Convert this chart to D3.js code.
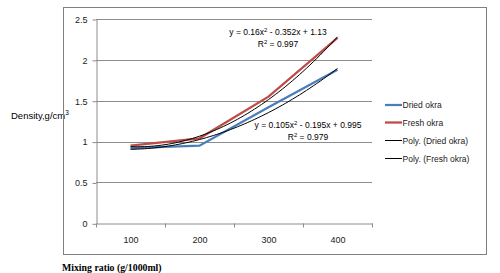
<!DOCTYPE html>
<html><head><meta charset="utf-8">
<script src="https://cdn.jsdelivr.net/npm/d3@7"></script>
<style>body{margin:0;background:#fff;position:relative}svg{display:block}
#frame{position:absolute;left:63px;top:7px;width:422px;height:246px;border:1px solid #808080;pointer-events:none}</style>
</head><body>
<div id="frame"></div>
<script>
const categories = ["100","200","300","400"];
const driedOkra = [0.92, 0.95, 1.42, 1.88];
const freshOkra = [0.95, 1.04, 1.55, 2.27];
const driedPoly = [0.105, -0.195, 0.995];
const freshPoly = [0.16, -0.352, 1.13];
const yTicks = [0, 0.5, 1, 1.5, 2, 2.5];
const seriesNames = ["Dried okra","Fresh okra","Poly. (Dried okra)","Poly. (Fresh okra)"];

const W=500,H=273;
const svg=d3.select("body").append("svg").attr("width",W).attr("height",H);
const font="'Liberation Sans', Arial, sans-serif";

const x=d3.scaleBand().domain(categories).range([96,372]);
const y=d3.scaleLinear().domain([0,2.5]).range([223.3,19]);

svg.append("path").attr("d","M63.5,7.5H486.5V254.5H63.5Z").attr("fill","none")
  .attr("stroke","#7f7f7f").attr("stroke-width",1);

const g=svg.append("g");
g.selectAll(".grid").data(yTicks.filter(d=>d>0)).join("line")
  .attr("x1",96).attr("x2",372).attr("y1",d=>Math.round(y(d))+0.5).attr("y2",d=>Math.round(y(d))+0.5)
  .attr("stroke","#8c8c8c").attr("stroke-width",1);

const yAxis=g.append("g").attr("transform","translate(96.5,0.5)")
  .call(d3.axisLeft(y).tickValues(yTicks).tickSize(4).tickSizeOuter(0).tickPadding(5).tickFormat(d3.format("")));
const xAxis=g.append("g").attr("transform",`translate(0.5,${Math.round(y(0))+0.5})`)
  .call(d3.axisBottom(x).tickSize(0).tickPadding(13));
const bounds=categories.map(c=>x(c)).concat([x.range()[1]]);
g.selectAll(".xt").data(bounds).join("line")
  .attr("x1",d=>Math.round(d)+0.5).attr("x2",d=>Math.round(d)+0.5)
  .attr("y1",Math.round(y(0))+0.5).attr("y2",Math.round(y(0))+4.5).attr("stroke","#8c8c8c");
[yAxis,xAxis].forEach(a=>{
  a.selectAll("path,line").attr("stroke","#8c8c8c");
  a.selectAll("text").attr("font-family",font).attr("font-size",9).attr("fill","#222");
});

const cx=i=>x(categories[i])+x.bandwidth()/2;
const line=d3.line().x((d,i)=>cx(i)).y(d=>y(d));
const polyLine=coef=>{
  const pts=d3.range(1,4.001,0.05).map(t=>[cx(0)+(t-1)*x.step(), coef[0]*t*t+coef[1]*t+coef[2]]);
  return d3.line().x(d=>d[0]).y(d=>y(d[1])).curve(d3.curveMonotoneX)(pts);
};
g.append("path").attr("d",line(driedOkra)).attr("fill","none").attr("stroke","#4a7ebb").attr("stroke-width",2.25);
g.append("path").attr("d",line(freshOkra)).attr("fill","none").attr("stroke","#be4b48").attr("stroke-width",2.25);
g.append("path").attr("d",polyLine(driedPoly)).attr("fill","none").attr("stroke","#000").attr("stroke-width",1);
g.append("path").attr("d",polyLine(freshPoly)).attr("fill","none").attr("stroke","#000").attr("stroke-width",1);

function eq(xc,yb,parts){
  const t=svg.append("text").attr("x",xc).attr("y",yb).attr("text-anchor","middle")
    .attr("font-family",font).attr("font-size",8.5).attr("fill","#000");
  parts.forEach(p=>{
    const s=t.append("tspan").text(p[0]);
    if(p[1]) s.attr("font-size",6).attr("dy",-3); else if(p[2]) s.attr("dy",3);
  });
}
eq(278,35,[["y = 0.16x"],["2",1],[" - 0.352x + 1.13",0,1]]);
eq(278,47,[["R"],["2",1],[" = 0.997",0,1]]);
eq(308,128,[["y = 0.105x"],["2",1],[" - 0.195x + 0.995",0,1]]);
eq(308,140,[["R"],["2",1],[" = 0.979",0,1]]);

const leg=[{c:"#4a7ebb",w:2.25},{c:"#be4b48",w:2.25},{c:"#000",w:1},{c:"#000",w:1}];
const ly=[105,122.5,140.5,158.5];
seriesNames.forEach((n,i)=>{
  svg.append("line").attr("x1",385).attr("x2",402).attr("y1",ly[i]).attr("y2",ly[i])
    .attr("stroke",leg[i].c).attr("stroke-width",leg[i].w);
  svg.append("text").attr("x",402.5).attr("y",ly[i]+3.2).attr("font-family",font)
    .attr("font-size",8.5).attr("fill","#222").text(n);
});

const yt=svg.append("text").attr("x",11).attr("y",119).attr("font-family",font).attr("font-size",9.5).attr("fill","#000");
yt.append("tspan").text("Density,g/cm");
yt.append("tspan").text("3").attr("font-size",6.5).attr("dy",-4);
svg.append("text").attr("x",62).attr("y",271).attr("font-family","'Liberation Serif','Times New Roman',serif")
  .attr("font-weight","bold").attr("font-size",9.8).attr("fill","#000").text("Mixing ratio (g/1000ml)");
</script>
</body></html>
